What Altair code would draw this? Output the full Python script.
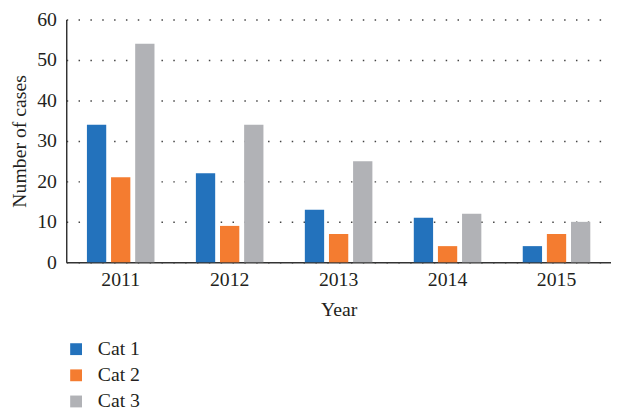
import altair as alt
import pandas as pd

years = ["2011", "2012", "2013", "2014", "2015"]
categories = ["Cat 1", "Cat 2", "Cat 3"]
cat1 = [34, 22, 13, 11, 4]
cat2 = [21, 9, 7, 4, 7]
cat3 = [54, 34, 25, 12, 10]
colors = ["#2372BC", "#F47C30", "#B1B2B6"]

rows = []
for i, y in enumerate(years):
    for c, vals in zip(categories, [cat1, cat2, cat3]):
        rows.append({"Year": y, "Category": c, "Cases": vals[i]})
df = pd.DataFrame(rows)

FONT = "Liberation Serif"
TXT = "#231F20"
FS = 20

chart = alt.Chart(df).mark_bar().encode(
    x=alt.X("Year:N", title="Year", sort=years,
            scale=alt.Scale(paddingInner=0.38, paddingOuter=0.19),
            axis=alt.Axis(labelAngle=0, ticks=False, labelPadding=8, titlePadding=10,
                          domainColor="#333333", domainWidth=1.5, grid=False)),
    xOffset=alt.XOffset("Category:N", sort=categories,
                        scale=alt.Scale(paddingInner=0.2, paddingOuter=0)),
    y=alt.Y("Cases:Q", title="Number of cases",
            scale=alt.Scale(domain=[0, 60], nice=False),
            axis=alt.Axis(values=[0, 10, 20, 30, 40, 50, 60], ticks=False, labelPadding=10,
                          titlePadding=7, domainColor="#333333", domainWidth=1.5,
                          grid=True, gridColor="#444444", gridWidth=1.5,
                          gridDash=[1.5, 10.5])),
    color=alt.Color("Category:N", sort=categories,
                    scale=alt.Scale(domain=categories, range=colors),
                    legend=alt.Legend(title=None, orient="none", legendX=0, legendY=324,
                                      symbolType="square", symbolSize=144,
                                      symbolStrokeWidth=0, labelFontSize=FS,
                                      labelOffset=12, rowPadding=6.5, padding=0,
                                      labelFont=FONT, labelColor=TXT)),
).properties(
    width=552, height=246,
    autosize=alt.AutoSizeParams(type="none"),
    padding={"left": 59, "top": 9, "right": 0, "bottom": 150},
).configure_view(
    stroke=None
).configure_axis(
    labelFont=FONT, titleFont=FONT, labelFontSize=FS, titleFontSize=FS,
    labelColor=TXT, titleColor=TXT, titleFontWeight="normal"
)

chart.save("out.html", embed_options={"renderer": "svg", "actions": False})
